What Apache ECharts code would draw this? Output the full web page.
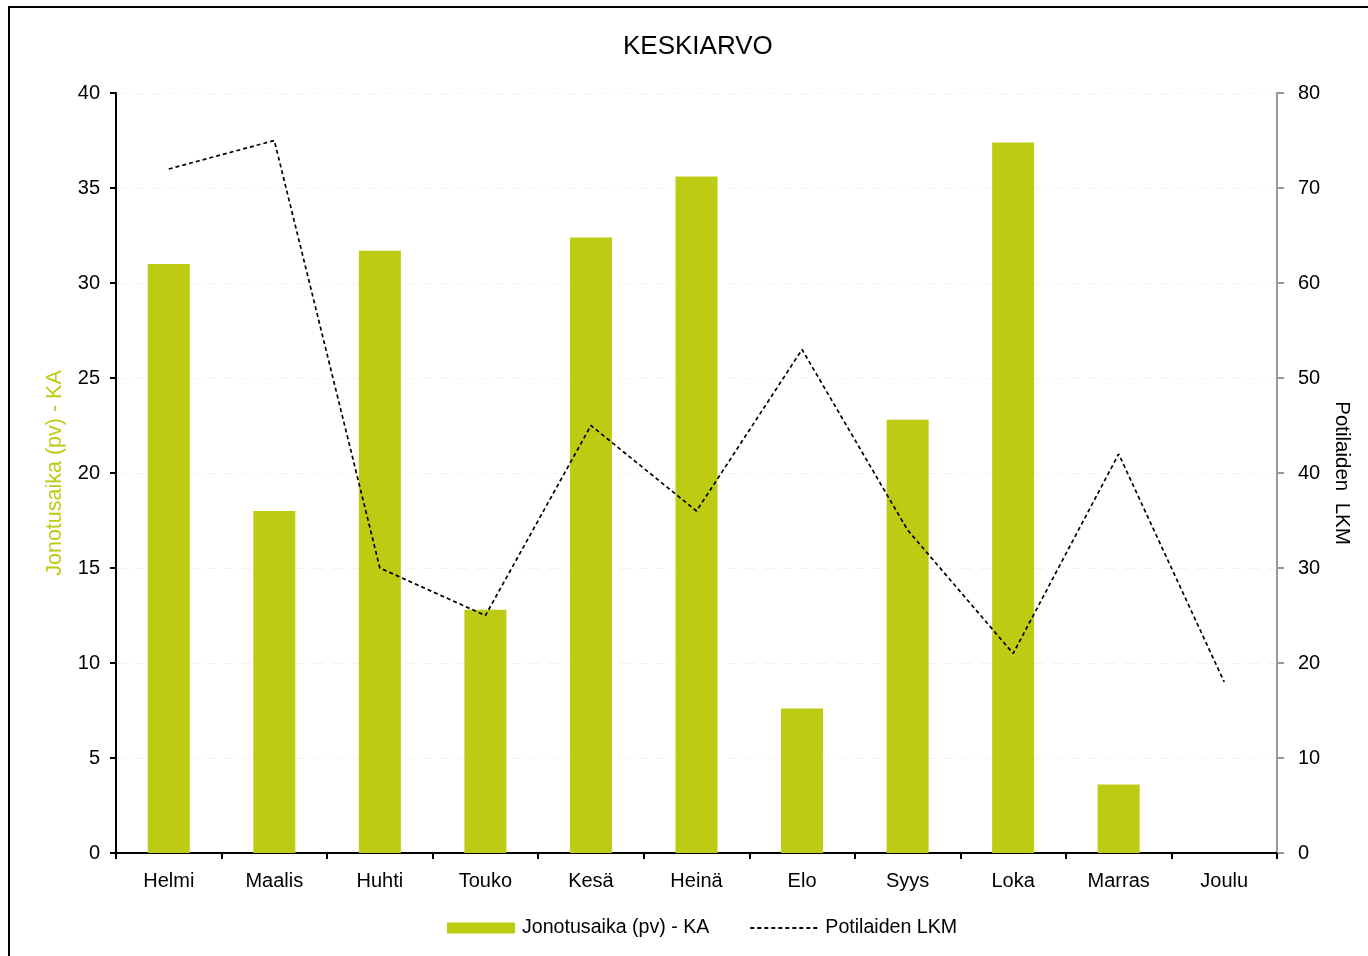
<!DOCTYPE html>
<html>
<head>
<meta charset="utf-8">
<script src="https://cdn.jsdelivr.net/npm/echarts@6/dist/echarts.min.js"></script>
<style>
  html, body { margin: 0; padding: 0; background: #fff; }
  #chart { width: 1368px; height: 956px; }
</style>
</head>
<body>
<div id="chart"></div>
<script>
// Months (February–December)
const months = ['Helmi', 'Maalis', 'Huhti', 'Touko', 'Kesä', 'Heinä', 'Elo', 'Syys', 'Loka', 'Marras', 'Joulu'];
// Average queueing time in working days
const waitDays = [31.0, 18.0, 31.7, 12.8, 32.4, 35.6, 7.6, 22.8, 37.4, 3.6, null];
// Number of patients
const patientCount = [72, 75, 30, 25, 45, 36, 53, 34, 21, 42, 18];
// Axis scales
const leftAxis = { min: 0, max: 40, interval: 5 };
const rightAxis = { min: 0, max: 80, interval: 10 };

const FONT = 'Liberation Sans, Arial, sans-serif';
const GREEN = '#BDCB12';

const chart = echarts.init(document.getElementById('chart'));
chart.setOption({
  backgroundColor: '#ffffff',
  animation: false,
  textStyle: { fontFamily: FONT },
  title: {
    text: 'KESKIARVO',
    left: 618,
    top: 29,
    textStyle: { fontFamily: FONT, fontSize: 26, fontWeight: 'normal', color: '#000' }
  },
  graphic: [{
    type: 'rect',
    shape: { x: 9, y: 7, width: 1400, height: 1000 },
    style: { fill: 'none', stroke: '#000', lineWidth: 2 },
    silent: true
  }],
  grid: { left: 116, right: 91, top: 93, bottom: 103 },
  legend: {
    bottom: 13,
    left: 442,
    itemWidth: 68,
    itemHeight: 11,
    itemGap: 40,
    textStyle: { fontFamily: FONT, fontSize: 19.6, color: '#000', padding: [0, 0, 0, 2] },
    data: [
      { name: 'Jonotusaika (pv) - KA', icon: 'rect' },
      { name: 'Potilaiden LKM', itemStyle: { opacity: 0 } }
    ]
  },
  xAxis: {
    type: 'category',
    data: months,
    axisLine: { lineStyle: { color: '#000', width: 2 } },
    axisTick: { show: true, length: 6, lineStyle: { color: '#000', width: 2 } },
    axisLabel: { fontFamily: FONT, fontSize: 20, color: '#000', margin: 18 },
    splitLine: { show: false }
  },
  yAxis: [{
    type: 'value',
    position: 'left',
    min: leftAxis.min, max: leftAxis.max, interval: leftAxis.interval,
    name: 'Jonotusaika (pv) - KA',
    nameLocation: 'middle',
    nameGap: 50,
    nameTextStyle: { fontFamily: FONT, fontSize: 21.5, color: GREEN },
    axisLine: { show: true, lineStyle: { color: '#000', width: 2 } },
    axisTick: { show: true, length: 6, lineStyle: { color: '#000', width: 2 } },
    axisLabel: { fontFamily: FONT, fontSize: 20, color: '#000', margin: 16 },
    splitLine: { show: true, lineStyle: { color: '#f3f3f3', type: [10, 8], width: 1 } }
  }, {
    type: 'value',
    position: 'right',
    min: rightAxis.min, max: rightAxis.max, interval: rightAxis.interval,
    name: 'Potilaiden  LKM',
    nameLocation: 'middle',
    nameGap: 53,
    nameRotate: -90,
    nameTextStyle: { fontFamily: FONT, fontSize: 20.5, color: '#000' },
    axisLine: { show: true, lineStyle: { color: '#999', width: 2 } },
    axisTick: { show: true, length: 7, lineStyle: { color: '#999', width: 2 } },
    axisLabel: { fontFamily: FONT, fontSize: 20, color: '#000', margin: 21 },
    splitLine: { show: false }
  }],
  series: [{
    name: 'Jonotusaika (pv) - KA',
    type: 'bar',
    yAxisIndex: 0,
    data: waitDays,
    barWidth: 42,
    itemStyle: { color: GREEN }
  }, {
    name: 'Potilaiden LKM',
    type: 'line',
    yAxisIndex: 1,
    data: patientCount,
    symbol: 'none',
    itemStyle: { color: '#000' },
    lineStyle: { color: '#000', width: 1.7, type: [4, 3] }
  }]
});
</script>
</body>
</html>
